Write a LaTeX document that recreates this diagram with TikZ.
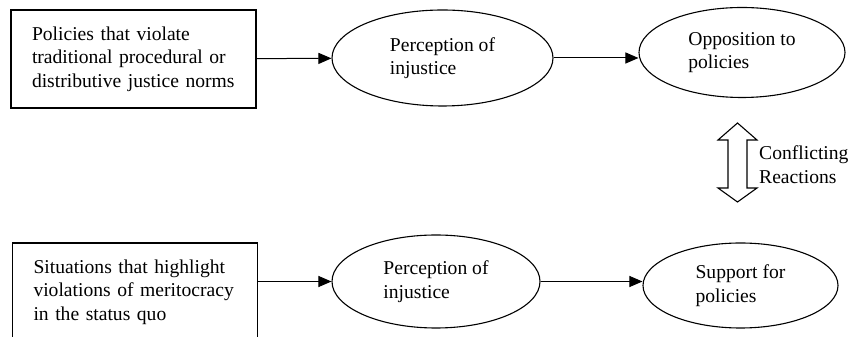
\documentclass[tikz,border=0pt]{standalone}
\usepackage{fontspec}
\setmainfont{Liberation Serif}
\usetikzlibrary{shapes.geometric,arrows.meta}

\begin{document}
\begin{tikzpicture}[
  x=1pt, y=1pt,
  font=\fontsize{19.6}{23.5}\selectfont,
  box/.style={draw, rectangle, line width=1.5pt, align=left, inner xsep=21pt, text width=203pt, minimum height=98pt},
  oval/.style={draw, ellipse, line width=1.1pt, align=left, inner sep=0pt},
  flow/.style={-{Triangle[length=13pt,width=11pt]}, line width=1pt}
]
\useasboundingbox (0,0) rectangle (849,337);

% upper row
\node[box] (pol) at (133.5,278) {Policies that violate\\ traditional procedural or\\ distributive justice norms};
\node[oval, minimum width=221pt, minimum height=96pt] (per1) at (442.5,279) {Perception of\\ injustice};
\node[oval, minimum width=206pt, minimum height=90pt] (opp) at (742,284.5) {Opposition to\\ policies};

% lower row
\node[box] (sit) at (135,45) {Situations that highlight\\ violations of meritocracy\\ in the status quo};
\node[oval, minimum width=208pt, minimum height=93pt] (per2) at (436,55.5) {Perception of\\ injustice};
\node[oval, minimum width=195pt, minimum height=85pt] (sup) at (740.5,51.5) {Support for\\ policies};

% connectors
\draw[flow] (pol) -- (per1);
\draw[flow] (per1.east) -- (per1.east -| opp.west);
\draw[flow] (sit.east |- per2.west) -- (per2.west);
\draw[flow] (per2.east) -- (per2.east -| sup.west);

% conflict
\draw[line width=1.1pt, line join=miter] (737.5,214) -- (757,197) -- (747,197) -- (747,149) -- (757,149)
  -- (737.5,135) -- (718,149) -- (728,149) -- (728,197) -- (718,197) -- cycle;
\node[align=left, inner sep=0pt, anchor=west] (conf) at (759,172.5) {Conflicting\\ Reactions};

\end{tikzpicture}
\end{document}
